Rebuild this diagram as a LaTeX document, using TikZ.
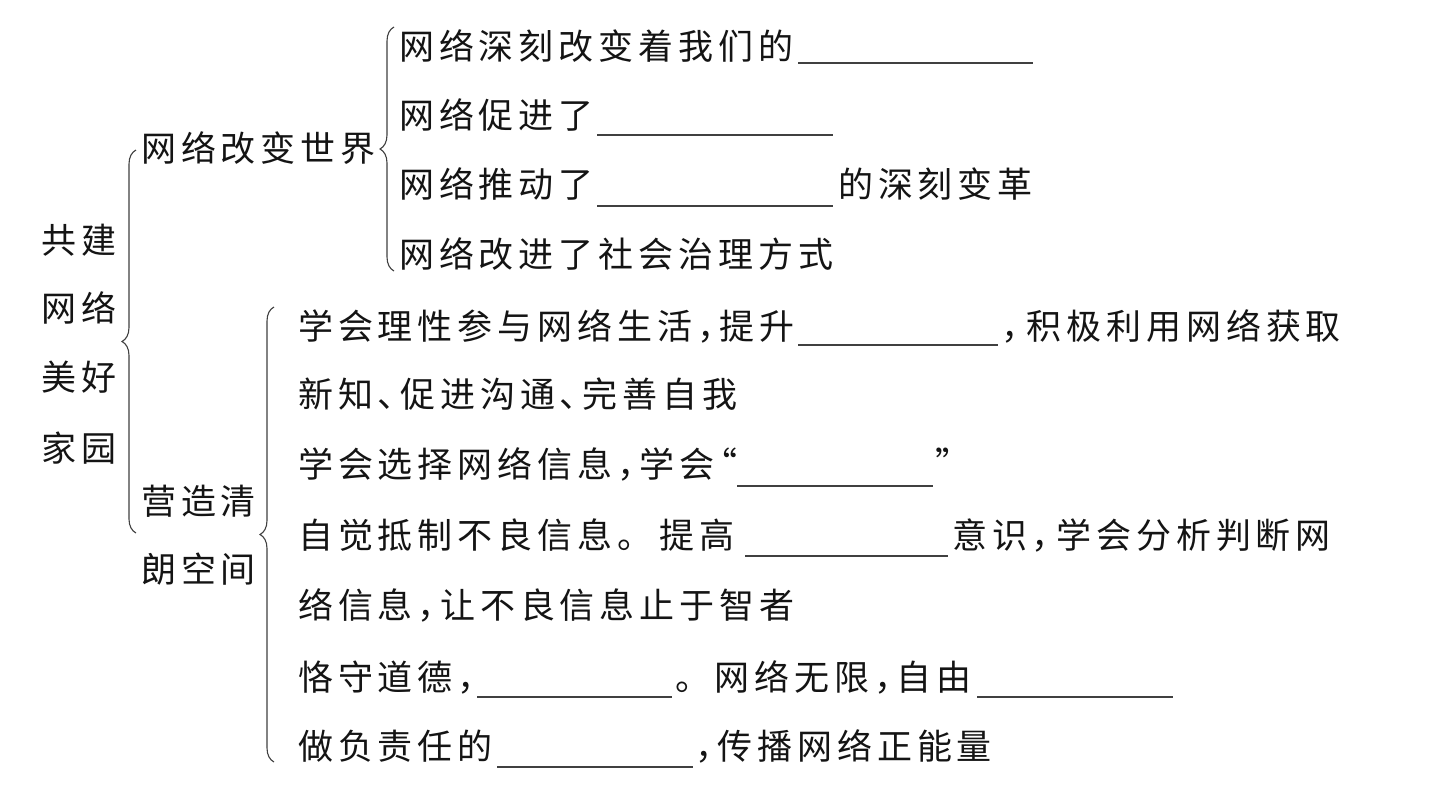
\documentclass[tikz,border=0pt]{standalone}
\usepackage{fontspec}
\setmainfont{Noto Sans CJK SC}[CharacterWidth=AlternateHalf,LetterSpace=14]
\usetikzlibrary{decorations.pathreplacing}
\begin{document}
\begin{tikzpicture}[x=1pt,y=-1pt,
  txt/.style={anchor=west, inner sep=0pt, font=\fontsize{35}{40}\selectfont,
    text height=30.8pt, text depth=4.2pt, text=black!92},
  blank/.style={line width=1.2pt, draw=black!75},
  brc/.style={decorate, decoration={brace, amplitude=14pt}, line width=1.1pt, draw=black!75}]
\fill[white] (0,0) rectangle (1430,785);
\useasboundingbox (0,0) rectangle (1430,785);

% root
\node[txt] (r1) at (41,240) {共\kern5pt 建};
\node[txt] (r2) at (41,308) {网\kern5pt 络};
\node[txt] (r3) at (41,377) {美\kern5pt 好};
\node[txt] (r4) at (41,448) {家\kern5pt 园};

% level 1
\node[txt] (a) at (141,148) {网络改变世界};
\node[txt] (b1) at (141,501) {营造清};
\node[txt] (b2) at (141,569) {朗空间};

% braces
\coordinate (b1t) at (136,150); \coordinate (b1b) at (136,533);
\draw[brc] (b1b) -- (b1t);
\coordinate (b2t) at (394,27); \coordinate (b2b) at (394,271);
\draw[brc] (b2b) -- (b2t);
\coordinate (b3t) at (274,307); \coordinate (b3b) at (274,762);
\draw[brc] (b3b) -- (b3t);

% upper branch
\node[txt] (u1) at (399,46) {网络深刻改变着我们的};
\draw[blank] (798,63) -- (1033,63);
\node[txt] (u2) at (399,115) {网络促进了};
\draw[blank] (597,135) -- (833,135);
\node[txt] (u3) at (399,184) {网络推动了};
\draw[blank] (597,206) -- (833,206);
\node[txt] (u3b) at (838,184) {的深刻变革};
\node[txt] (u4) at (399,254) {网络改进了社会治理方式};

% lower branch
\node[txt] (d1) at (298,326) {学会理性参与网络生活，提升};
\draw[blank] (798,345) -- (998,345);
\node[txt] (d1b) at (1001,326) {，\kern8pt 积极利用网络获取};
\node[txt] (d2) at (298,394) {新知、促进沟通、完善自我};
\node[txt] (d3) at (298,464) {学会选择网络信息，学会“};
\draw[blank] (737,486) -- (933,486);
\node[txt] (d3b) at (935,464) {”};
\node[txt] (d4) at (298,535) {自觉抵制不良信息。\kern25pt 提高};
\draw[blank] (745,556) -- (948,556);
\node[txt] (d4b) at (952,535) {意识，\kern7pt 学会分析判断网};
\node[txt] (d5) at (298,605) {络信息，让不良信息止于智者};
\node[txt] (d6) at (298,677) {恪守道德，};
\draw[blank] (477,697) -- (672,697);
\node[txt] (d6b) at (675,677) {。\kern22pt 网络无限，自由};
\draw[blank] (977,697) -- (1173,697);
\node[txt] (d7) at (298,746) {做负责任的};
\draw[blank] (497,767) -- (693,767);
\node[txt] (d7b) at (695,746) {，传播网络正能量};
\end{tikzpicture}
\end{document}
